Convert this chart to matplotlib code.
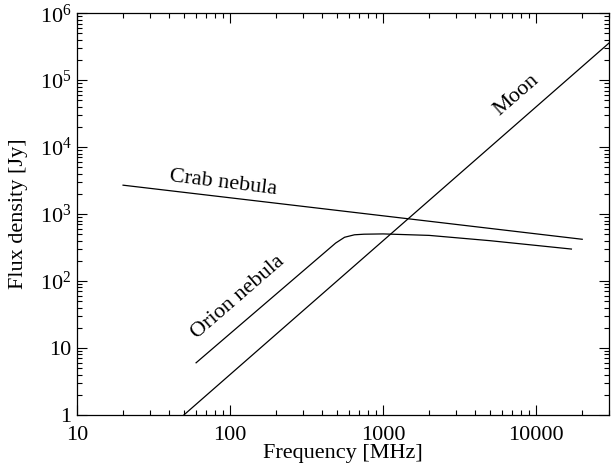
import matplotlib.pyplot as plt
import numpy as np
from matplotlib.ticker import FixedLocator, FixedFormatter, LogLocator, NullFormatter

plt.rcParams['font.family'] = ['Liberation Serif', 'DejaVu Serif']
plt.rcParams['mathtext.fontset'] = 'custom'
plt.rcParams['mathtext.rm'] = 'Liberation Serif'
plt.rcParams['mathtext.it'] = 'Liberation Serif:italic'

# Spectra (frequency in MHz, flux density in Jy)
moon_freq = [50, 30000]
moon_flux = [1.0, 3.6e5]

crab_freq = [20, 20000]
crab_flux = [2700, 420]

orion_freq = [60, 490, 560, 650, 750, 1000, 2000, 5000, 10000, 17000]
orion_flux = [6.0, 369, 450, 490, 500, 505, 480, 400, 340, 300]

y_ticks = [1, 10, 1e2, 1e3, 1e4, 1e5, 1e6]
y_labels = ['1', '10', r'$10^2$', r'$10^3$', r'$10^4$', r'$10^5$', r'$10^6$']
x_ticks = [10, 100, 1000, 10000]
x_labels = ['10', '100', '1000', '10000']

fig = plt.figure(figsize=(6.11, 4.72), dpi=100)
ax = fig.add_axes([0.126, 0.121, 0.871, 0.851])

ax.plot(moon_freq, moon_flux, color='black', lw=0.9)
ax.plot(crab_freq, crab_flux, color='black', lw=0.9)
ax.plot(orion_freq, orion_flux, color='black', lw=0.9)

ax.set_xscale('log')
ax.set_yscale('log')
ax.set_xlim(10, 30000)
ax.set_ylim(1, 1e6)

ax.xaxis.set_major_locator(FixedLocator(x_ticks))
ax.xaxis.set_major_formatter(FixedFormatter(x_labels))
ax.yaxis.set_major_locator(FixedLocator(y_ticks))
ax.yaxis.set_major_formatter(FixedFormatter(y_labels))
ax.xaxis.set_minor_locator(LogLocator(base=10, subs=np.arange(2, 10)))
ax.yaxis.set_minor_locator(LogLocator(base=10, subs=np.arange(2, 10)))
ax.xaxis.set_minor_formatter(NullFormatter())
ax.yaxis.set_minor_formatter(NullFormatter())

ax.tick_params(which='both', direction='in', top=True, right=True,
               labelsize=16, width=0.8)
ax.tick_params(axis='x', which='major', length=7, pad=8)
ax.tick_params(axis='y', which='major', length=7, pad=4)
ax.tick_params(which='minor', length=3.5)
for s in ax.spines.values():
    s.set_linewidth(0.9)

ax.set_xlabel('Frequency [MHz]', fontsize=16, labelpad=-1)
ax.set_ylabel('Flux density [Jy]', fontsize=16, labelpad=8)

ax.text(90, 2900, 'Crab nebula', fontsize=16, rotation=-7,
        ha='center', va='center', rotation_mode='anchor')
ax.text(113, 58, 'Orion nebula', fontsize=16, rotation=41,
        ha='center', va='center', rotation_mode='anchor')
ax.text(7400, 6e4, 'Moon', fontsize=16, rotation=41,
        ha='center', va='center', rotation_mode='anchor')

fig.savefig('out.png', dpi=100)
